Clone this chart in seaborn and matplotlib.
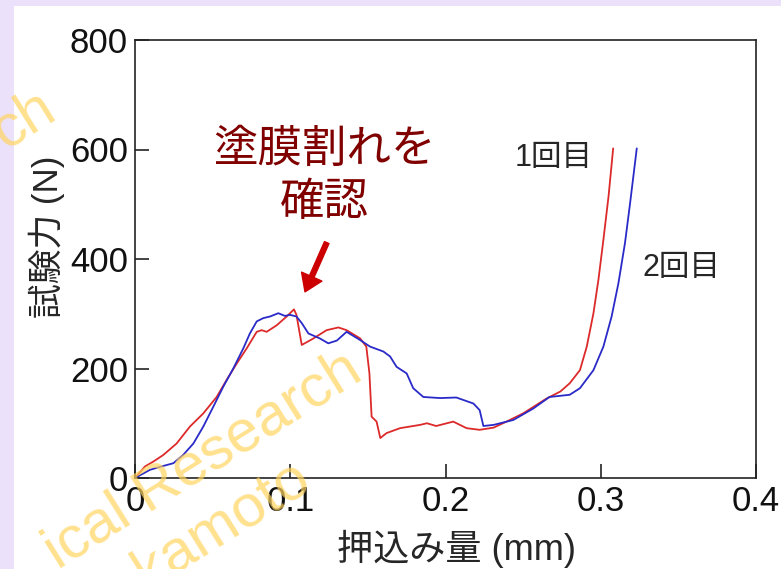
import matplotlib
matplotlib.use("Agg")
import pandas as pd
import matplotlib.pyplot as plt
import seaborn as sns
from matplotlib.patches import Rectangle

# 押込み試験の荷重-変位データ
x_1 = [0, 0.0064, 0.0118, 0.0182, 0.0268, 0.0354, 0.044, 0.0526, 0.059, 0.0655,
       0.072, 0.0784, 0.0816, 0.0848, 0.0913, 0.0977, 0.1024, 0.104, 0.1074, 0.115,
       0.1234, 0.131, 0.1363, 0.145, 0.149, 0.151, 0.1524, 0.1556, 0.158, 0.162,
       0.1707, 0.1836, 0.188, 0.194, 0.205, 0.2136, 0.222, 0.231, 0.24, 0.25,
       0.265, 0.274, 0.28, 0.2866, 0.291, 0.2953, 0.2985, 0.3017, 0.305, 0.308]
y_1 = [0, 21, 30, 42, 63, 94, 118, 148, 179, 209,
       237, 267, 270, 267, 279, 295, 308, 298, 243, 255,
       270, 275, 270, 255, 240, 191, 112, 103, 73, 82,
       91, 97, 100, 95, 103, 91, 88, 92, 104, 118,
       145, 158, 173, 197, 240, 301, 362, 435, 514, 602]

x_2 = [0, 0.0097, 0.0182, 0.0247, 0.031, 0.0376, 0.044, 0.0504, 0.0569, 0.0633,
       0.0698, 0.074, 0.0784, 0.0826, 0.087, 0.0923, 0.0966, 0.0998, 0.104, 0.1074,
       0.1117, 0.119, 0.1245, 0.13, 0.1363, 0.145, 0.1514, 0.16, 0.1643, 0.1685,
       0.175, 0.1792, 0.1857, 0.1965, 0.207, 0.218, 0.222, 0.2244, 0.231, 0.2437,
       0.2566, 0.267, 0.28, 0.2866, 0.2953, 0.3017, 0.307, 0.3114, 0.3156, 0.3189, 0.3232]
y_2 = [0, 15, 22, 27, 42, 63, 94, 130, 167, 200,
       237, 264, 286, 292, 295, 301, 296, 298, 295, 283,
       264, 255, 246, 251, 267, 252, 240, 231, 222, 203,
       191, 164, 148, 146, 147, 136, 124, 95, 97, 106,
       127, 148, 152, 164, 197, 240, 295, 356, 429, 502, 602]

runs = ["1回目", "2回目"]
xticks = [0, 0.1, 0.2, 0.3, 0.4]
xticklabels = ["0", "0.1", "0.2", "0.3", "0.4"]
yticks = [0, 200, 400, 600, 800]

df = pd.concat([
    pd.DataFrame({"x": x_1, "y": y_1, "run": runs[0]}),
    pd.DataFrame({"x": x_2, "y": y_2, "run": runs[1]}),
])

sns.set_style("ticks")
plt.rcParams['font.family'] = ['Liberation Sans', 'Noto Sans CJK JP']

W, H = 781, 569
fig = plt.figure(figsize=(W / 100, H / 100), dpi=100, facecolor='#ece1fa')
# 白いパネル
fig.patches.append(Rectangle((14 / W, 0), 1, 1 - 6 / H, transform=fig.transFigure,
                             facecolor='white', edgecolor='none', zorder=-1))

ax = fig.add_axes([135 / W, 1 - 478 / H, 621 / W, 438 / H])
ax.set_facecolor('white')

sns.lineplot(data=df, x="x", y="y", hue="run", palette=['#dc2a2a', '#2a2ac8'],
             sort=False, estimator=None, legend=False, lw=1.3, ax=ax)

ax.set_xlim(0, 0.4)
ax.set_ylim(0, 800)
ax.set_xticks(xticks, xticklabels)
ax.set_yticks(yticks)
ax.tick_params(direction='in', length=10, width=1.1, labelsize=25, colors='#111111', pad=5)
for s in ax.spines.values():
    s.set_linewidth(1.2)
    s.set_color('#222222')

ax.set_xlabel("押込み量 (mm)", fontsize=26, va='center')
ax.set_ylabel("試験力 (N)", fontsize=25, va='center')
ax.xaxis.set_label_coords(0.517, -0.161)
ax.yaxis.set_label_coords(-0.142, 0.55)

# 系列ラベル
ax.text(0.2695, 584, "1回目", fontsize=22, ha='center', va='center')
ax.text(0.352, 384, "2回目", fontsize=22, ha='center', va='center')

# 注記
ax.text(0.122, 550, "塗膜割れを\n確認", fontsize=32, color='#800000',
        ha='center', va='center', linespacing=1.37)
ax.annotate("", xy=(0.1095, 340), xytext=(0.1235, 430),
            arrowprops=dict(facecolor='#cc0000', edgecolor='#cc0000',
                            width=3.5, headwidth=16, headlength=12, shrink=0))

# 透かし（見えている部分のみ）
wm = dict(fontsize=43, color='#ffd45e', alpha=0.7, rotation=32,
          rotation_mode='anchor', ha='center', va='center', zorder=10)
fig.text(203 / W, 1 - 461 / H, "ical Research", **wm)
fig.text(222 / W, 1 - 524 / H, "kamoto", **wm)
fig.text(24 / W, 1 - 120 / H, "ch", **wm)

plt.savefig("out.png", dpi=100, facecolor=fig.get_facecolor())
